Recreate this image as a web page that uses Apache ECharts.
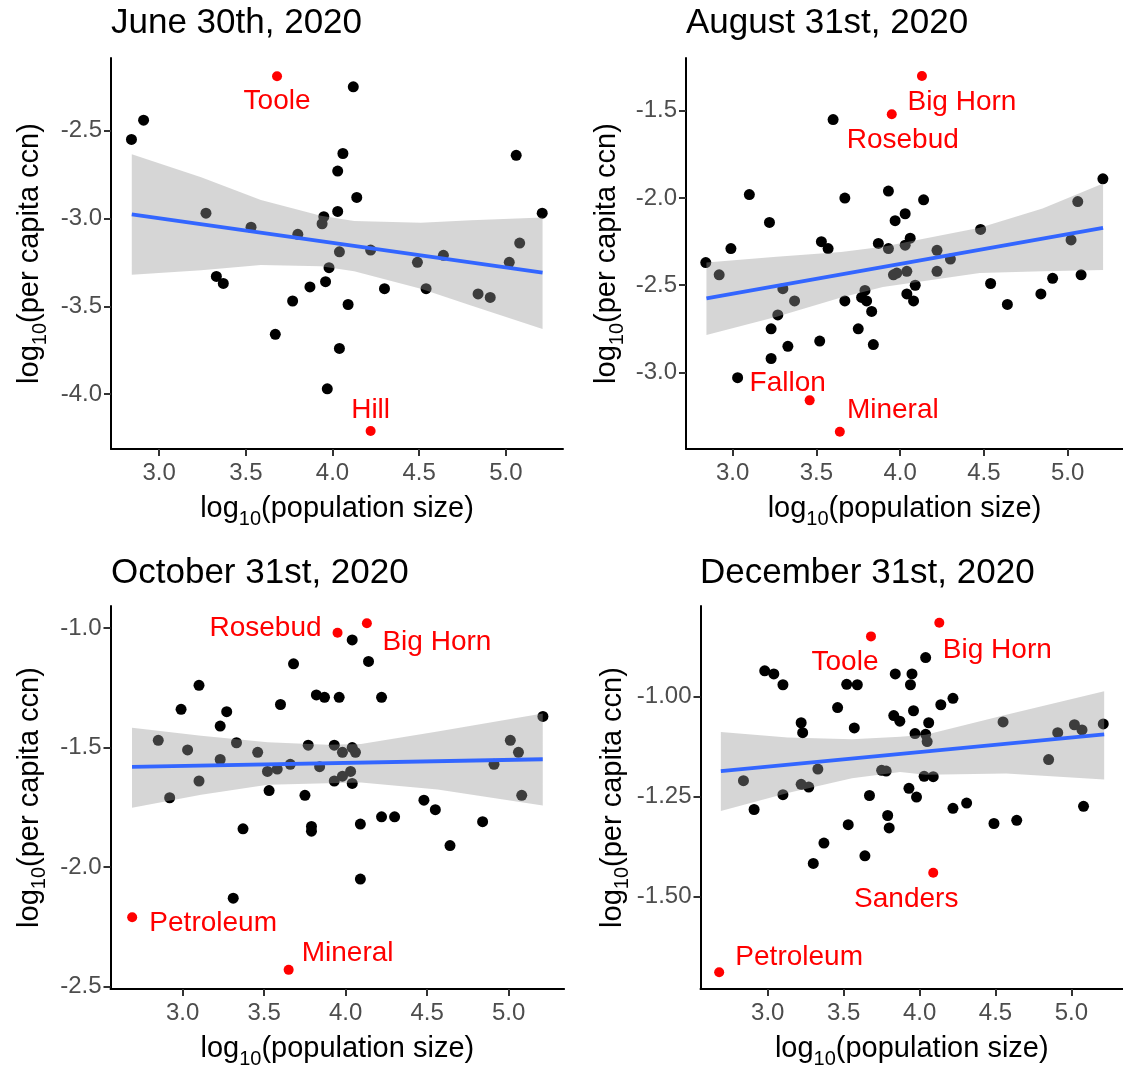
<!DOCTYPE html>
<html>
<head>
<meta charset="utf-8">
<script src="https://cdn.jsdelivr.net/npm/echarts@6/dist/echarts.min.js"></script>
<style>
  html, body { margin: 0; padding: 0; background: #fff; }
  #chart { width: 1123px; height: 1070px; }
</style>
</head>
<body>
<div id="chart"></div>
<script>
// ---- June 30th, 2020 ----
const junX = [2.84, 2.91, 3.27, 3.53, 3.80, 3.94, 3.95, 3.33, 3.37, 3.87, 3.77, 3.96, 3.98, 3.67, 3.97,
  4.12, 4.06, 4.03, 4.14, 4.03, 4.04, 4.22, 4.30, 4.09, 4.04, 4.49, 4.64, 4.54, 4.84, 4.91, 5.02, 5.08, 5.06, 5.21];
const junY = [-2.55, -2.44, -2.97, -3.05, -3.09, -3.03, -2.99, -3.33, -3.37, -3.39, -3.47, -3.36, -3.28, -3.66, -3.97,
  -2.25, -2.63, -2.73, -2.88, -2.96, -3.19, -3.18, -3.40, -3.49, -3.74, -3.25, -3.21, -3.40, -3.43, -3.45, -3.25, -3.14, -2.64, -2.97];
const junRedNames = ["Toole", "Hill"];
const junRedX = [3.68, 4.22];
const junRedY = [-2.19, -4.21];
const junLineX = [2.842, 5.212];
const junLineY = [-2.976, -3.308];
const junBandX = [2.842, 3.242, 3.587, 3.933, 4.125, 4.510, 4.799, 5.212];
const junBandHi = [-2.634, -2.765, -2.895, -2.985, -3.015, -3.025, -3.010, -2.995];
const junBandLo = [-3.321, -3.295, -3.265, -3.272, -3.300, -3.400, -3.495, -3.630];
const junYTicks = [-4.0, -3.5, -3.0, -2.5];

// ---- August 31st, 2020 ----
const augX = [2.84, 2.92, 2.99, 3.10, 3.22, 3.30, 3.37, 3.27, 3.23, 3.33, 3.23, 3.03, 3.60, 3.67, 3.53, 3.57, 3.67,
  3.52, 3.75, 3.79, 3.77, 3.80, 3.83, 3.84, 3.87, 3.93, 3.93, 3.96, 3.97, 4.14, 4.03, 4.06, 4.03, 4.22, 4.30, 4.22,
  4.04, 3.98, 4.09, 4.04, 4.08, 4.48, 4.54, 4.64, 4.84, 4.91, 5.02, 5.06, 5.08, 5.21];
const augY = [-2.37, -2.44, -2.29, -1.98, -2.14, -2.52, -2.59, -2.67, -2.75, -2.85, -2.92, -3.03, -1.55, -2.00, -2.25, -2.29, -2.59,
  -2.82, -2.75, -2.53, -2.57, -2.59, -2.65, -2.84, -2.26, -1.96, -2.29, -2.44, -2.13, -2.01, -2.09, -2.23, -2.27, -2.30, -2.35, -2.42,
  -2.42, -2.43, -2.50, -2.55, -2.59, -2.18, -2.49, -2.61, -2.55, -2.46, -2.24, -2.02, -2.44, -1.89];
const augRedNames = ["Big Horn", "Rosebud", "Fallon", "Mineral"];
const augRedX = [4.13, 3.95, 3.46, 3.64];
const augRedY = [-1.30, -1.52, -3.16, -3.34];
const augLineX = [2.844, 5.211];
const augLineY = [-2.576, -2.171];
const augBandX = [2.844, 3.263, 3.648, 3.897, 4.475, 4.850, 5.211];
const augBandHi = [-2.369, -2.337, -2.310, -2.280, -2.170, -2.060, -1.916];
const augBandLo = [-2.786, -2.681, -2.570, -2.510, -2.430, -2.420, -2.413];
const augYTicks = [-3.0, -2.5, -2.0, -1.5];

// ---- October 31st, 2020 ----
const octX = [3.68, 3.10, 2.99, 3.27, 3.23, 3.60, 3.82, 3.87, 2.85, 3.03, 3.33, 3.23, 3.46, 3.52, 3.58, 3.66, 3.77,
  3.84, 3.10, 2.92, 3.53, 3.75, 3.37, 3.79, 3.79, 3.31, 4.04, 4.14, 3.96, 4.22, 3.93, 3.98, 4.04, 4.06, 3.93, 3.98,
  4.03, 4.04, 4.09, 4.22, 4.30, 4.09, 4.48, 4.55, 4.64, 4.84, 4.91, 5.01, 5.06, 5.08, 5.21];
const octY = [-1.15, -1.24, -1.34, -1.35, -1.41, -1.32, -1.28, -1.29, -1.47, -1.51, -1.48, -1.55, -1.52, -1.60, -1.59, -1.57, -1.49,
  -1.58, -1.64, -1.71, -1.68, -1.70, -1.84, -1.83, -1.85, -2.13, -1.05, -1.14, -1.29, -1.29, -1.49, -1.52, -1.50, -1.52, -1.64, -1.62,
  -1.60, -1.65, -1.82, -1.79, -1.79, -2.05, -1.72, -1.76, -1.91, -1.81, -1.57, -1.47, -1.52, -1.70, -1.37];
const octRedNames = ["Rosebud", "Big Horn", "Petroleum", "Mineral"];
const octRedX = [3.95, 4.13, 2.69, 3.65];
const octRedY = [-1.02, -0.98, -2.21, -2.43];
const octLineX = [2.689, 5.209];
const octLineY = [-1.581, -1.549];
const octBandX = [2.689, 3.113, 3.521, 3.890, 4.094, 4.564, 5.209];
const octBandHi = [-1.417, -1.451, -1.478, -1.488, -1.485, -1.433, -1.358];
const octBandLo = [-1.752, -1.697, -1.656, -1.649, -1.646, -1.676, -1.742];
const octYTicks = [-2.5, -2.0, -1.5, -1.0];

// ---- December 31st, 2020 ----
const decX = [2.98, 3.04, 3.10, 3.52, 3.59, 3.84, 3.46, 3.22, 3.23, 3.57, 3.83, 3.87, 2.84, 3.33, 3.22, 3.27, 3.10,
  3.75, 3.78, 2.91, 3.67, 3.53, 3.79, 3.80, 3.37, 3.64, 3.30, 4.04, 3.95, 3.94, 4.22, 4.14, 3.96, 4.06, 3.97, 4.04,
  4.05, 4.03, 4.09, 3.93, 3.98, 4.22, 4.31, 4.49, 4.64, 4.55, 4.85, 4.91, 5.02, 5.07, 5.08, 5.21];
const decY = [-0.935, -0.943, -0.970, -0.969, -0.970, -0.943, -1.027, -1.065, -1.090, -1.078, -1.047, -1.061, -1.210, -1.181,
  -1.219, -1.226, -1.245, -1.184, -1.186, -1.282, -1.247, -1.320, -1.297, -1.328, -1.366, -1.398, -1.417, -0.902, -0.943,
  -0.970, -1.004, -1.020, -1.035, -1.065, -1.092, -1.094, -1.112, -1.199, -1.200, -1.229, -1.251, -1.279, -1.266, -1.317,
  -1.309, -1.063, -1.157, -1.090, -1.070, -1.083, -1.274, -1.068];
const decRedNames = ["Toole", "Big Horn", "Sanders", "Petroleum"];
const decRedX = [3.68, 4.13, 4.09, 2.68];
const decRedY = [-0.849, -0.815, -1.440, -1.689];
const decLineX = [2.691, 5.216];
const decLineY = [-1.186, -1.094];
const decBandX = [2.691, 3.131, 3.555, 3.872, 4.041, 4.571, 5.216];
const decBandHi = [-1.088, -1.102, -1.106, -1.100, -1.095, -1.045, -0.986];
const decBandLo = [-1.286, -1.241, -1.204, -1.188, -1.195, -1.192, -1.207];
const decYTicks = [-1.50, -1.25, -1.00];

const xTicks = [3.0, 3.5, 4.0, 4.5, 5.0];

// label offsets (px) for the red county names
const junLabelOffset = [[0, 25], [0, -21]];
const augLabelOffset = [[40, 26], [11, 26], [-22, -17], [53, -21]];
const octLabelOffset = [[-72, -4], [70, 19], [81, 6], [59, -17]];
const decLabelOffset = [[-26, 26], [58, 27], [-27, 27], [80, -15]];

const FONT = '"Liberation Sans", Arial, Helvetica, sans-serif';

const panels = [
  {
    title: "June 30th, 2020", titlePos: [111, 6],
    grid: { left: 111, top: 58, width: 452, height: 391 },
    xRange: [2.722, 5.330], yRange: [-4.313, -2.086], yTicks: junYTicks, yDigits: 1, yGap: 61,
    x: junX, y: junY, redNames: junRedNames, redX: junRedX, redY: junRedY, labelOffset: junLabelOffset,
    lineX: junLineX, lineY: junLineY, bandX: junBandX, bandHi: junBandHi, bandLo: junBandLo,
  },
  {
    title: "August 31st, 2020", titlePos: [686, 6],
    grid: { left: 686, top: 58, width: 452, height: 391 },
    xRange: [2.722, 5.330], yRange: [-3.439, -1.197], yTicks: augYTicks, yDigits: 1, yGap: 59,
    x: augX, y: augY, redNames: augRedNames, redX: augRedX, redY: augRedY, labelOffset: augLabelOffset,
    lineX: augLineX, lineY: augLineY, bandX: augBandX, bandHi: augBandHi, bandLo: augBandLo,
  },
  {
    title: "October 31st, 2020", titlePos: [111, 556],
    grid: { left: 110.5, top: 606, width: 453.6, height: 390.7 },
    xRange: [2.557, 5.340], yRange: [-2.510, -0.908], yTicks: octYTicks, yDigits: 1, yGap: 61,
    x: octX, y: octY, redNames: octRedNames, redX: octRedX, redY: octRedY, labelOffset: octLabelOffset,
    lineX: octLineX, lineY: octLineY, bandX: octBandX, bandHi: octBandHi, bandLo: octBandLo,
  },
  {
    title: "December 31st, 2020", titlePos: [700, 556],
    grid: { left: 700.5, top: 606, width: 438.3, height: 391 },
    xRange: [2.557, 5.340], yRange: [-1.731, -0.773], yTicks: decYTicks, yDigits: 2, yGap: 68,
    x: decX, y: decY, redNames: decRedNames, redX: decRedX, redY: decRedY, labelOffset: decLabelOffset,
    lineX: decLineX, lineY: decLineY, bandX: decBandX, bandHi: decBandHi, bandLo: decBandLo,
  },
];

function axisName(text) {
  return "{a|log}{b|10}{a|(" + text + ")}";
}
const nameRich = {
  a: { fontSize: 29, color: "#000", fontFamily: FONT, lineHeight: 40, verticalAlign: "middle" },
  b: { fontSize: 20, color: "#000", fontFamily: FONT, lineHeight: 20, verticalAlign: "bottom" },
};

const axisLineStyle = { show: true, onZero: false, lineStyle: { color: "#000", width: 2 } };
const axisTickStyle = { show: true, length: 7, lineStyle: { color: "#333", width: 2 } };

const option = {
  animation: false,
  backgroundColor: "#fff",
  title: panels.map((p) => ({
    text: p.title,
    left: p.titlePos[0],
    top: p.titlePos[1],
    padding: 0,
    textStyle: { fontSize: 35, fontWeight: "normal", color: "#000", fontFamily: FONT },
  })),
  grid: panels.map((p) => Object.assign({ containLabel: false }, p.grid)),
  xAxis: panels.map((p, i) => ({
    type: "value",
    gridIndex: i,
    min: p.xRange[0],
    max: p.xRange[1],
    name: axisName("population size"),
    nameLocation: "middle",
    nameGap: 40,
    nameTextStyle: { rich: nameRich },
    axisLine: axisLineStyle,
    axisTick: Object.assign({ customValues: xTicks }, axisTickStyle),
    axisLabel: {
      customValues: xTicks,
      formatter: (v) => v.toFixed(1),
      margin: 12,
      fontSize: 24,
      color: "#4D4D4D",
      fontFamily: FONT,
    },
    splitLine: { show: false },
  })),
  yAxis: panels.map((p, i) => ({
    type: "value",
    gridIndex: i,
    min: p.yRange[0],
    max: p.yRange[1],
    name: axisName("per capita ccn"),
    nameLocation: "middle",
    nameGap: p.yGap,
    nameTextStyle: { rich: nameRich },
    axisLine: axisLineStyle,
    axisTick: Object.assign({ customValues: p.yTicks }, axisTickStyle),
    axisLabel: {
      customValues: p.yTicks,
      formatter: (v) => v.toFixed(p.yDigits),
      margin: 9,
      fontSize: 24,
      color: "#4D4D4D",
      fontFamily: FONT,
    },
    splitLine: { show: false },
  })),
  series: [],
};

panels.forEach((p, i) => {
  option.series.push({
    type: "scatter",
    xAxisIndex: i,
    yAxisIndex: i,
    symbolSize: 11,
    itemStyle: { color: "#000", opacity: 1 },
    data: p.x.map((x, k) => [x, p.y[k]]),
    z: 2,
  });
  option.series.push({
    type: "custom",
    coordinateSystem: "cartesian2d",
    xAxisIndex: i,
    yAxisIndex: i,
    data: p.bandX.map((x, k) => [x, p.bandLo[k], p.bandHi[k]]),
    encode: { x: 0, y: [1, 2] },
    renderItem: (params, api) => {
      if (params.dataIndex !== 0) return null;
      const upper = p.bandX.map((x, k) => api.coord([x, p.bandHi[k]]));
      const lower = p.bandX.map((x, k) => api.coord([x, p.bandLo[k]])).reverse();
      return {
        type: "polygon",
        shape: { points: upper.concat(lower) },
        style: { fill: "rgba(153,153,153,0.4)" },
      };
    },
    z: 3,
  });
  option.series.push({
    type: "line",
    xAxisIndex: i,
    yAxisIndex: i,
    symbol: "none",
    lineStyle: { color: "#3366FF", width: 3.8 },
    data: p.lineX.map((x, k) => [x, p.lineY[k]]),
    z: 4,
  });
  option.series.push({
    type: "scatter",
    xAxisIndex: i,
    yAxisIndex: i,
    symbolSize: 10,
    itemStyle: { color: "#FF0000", opacity: 1 },
    data: p.redNames.map((name, k) => ({
      name: name,
      value: [p.redX[k], p.redY[k]],
      label: { offset: p.labelOffset[k] },
    })),
    label: {
      show: true,
      position: "inside",
      formatter: "{b}",
      color: "#FF0000",
      fontSize: 28,
      fontFamily: FONT,
    },
    z: 5,
  });
});

const myChart = echarts.init(document.getElementById("chart"));
myChart.setOption(option);
</script>
</body>
</html>
